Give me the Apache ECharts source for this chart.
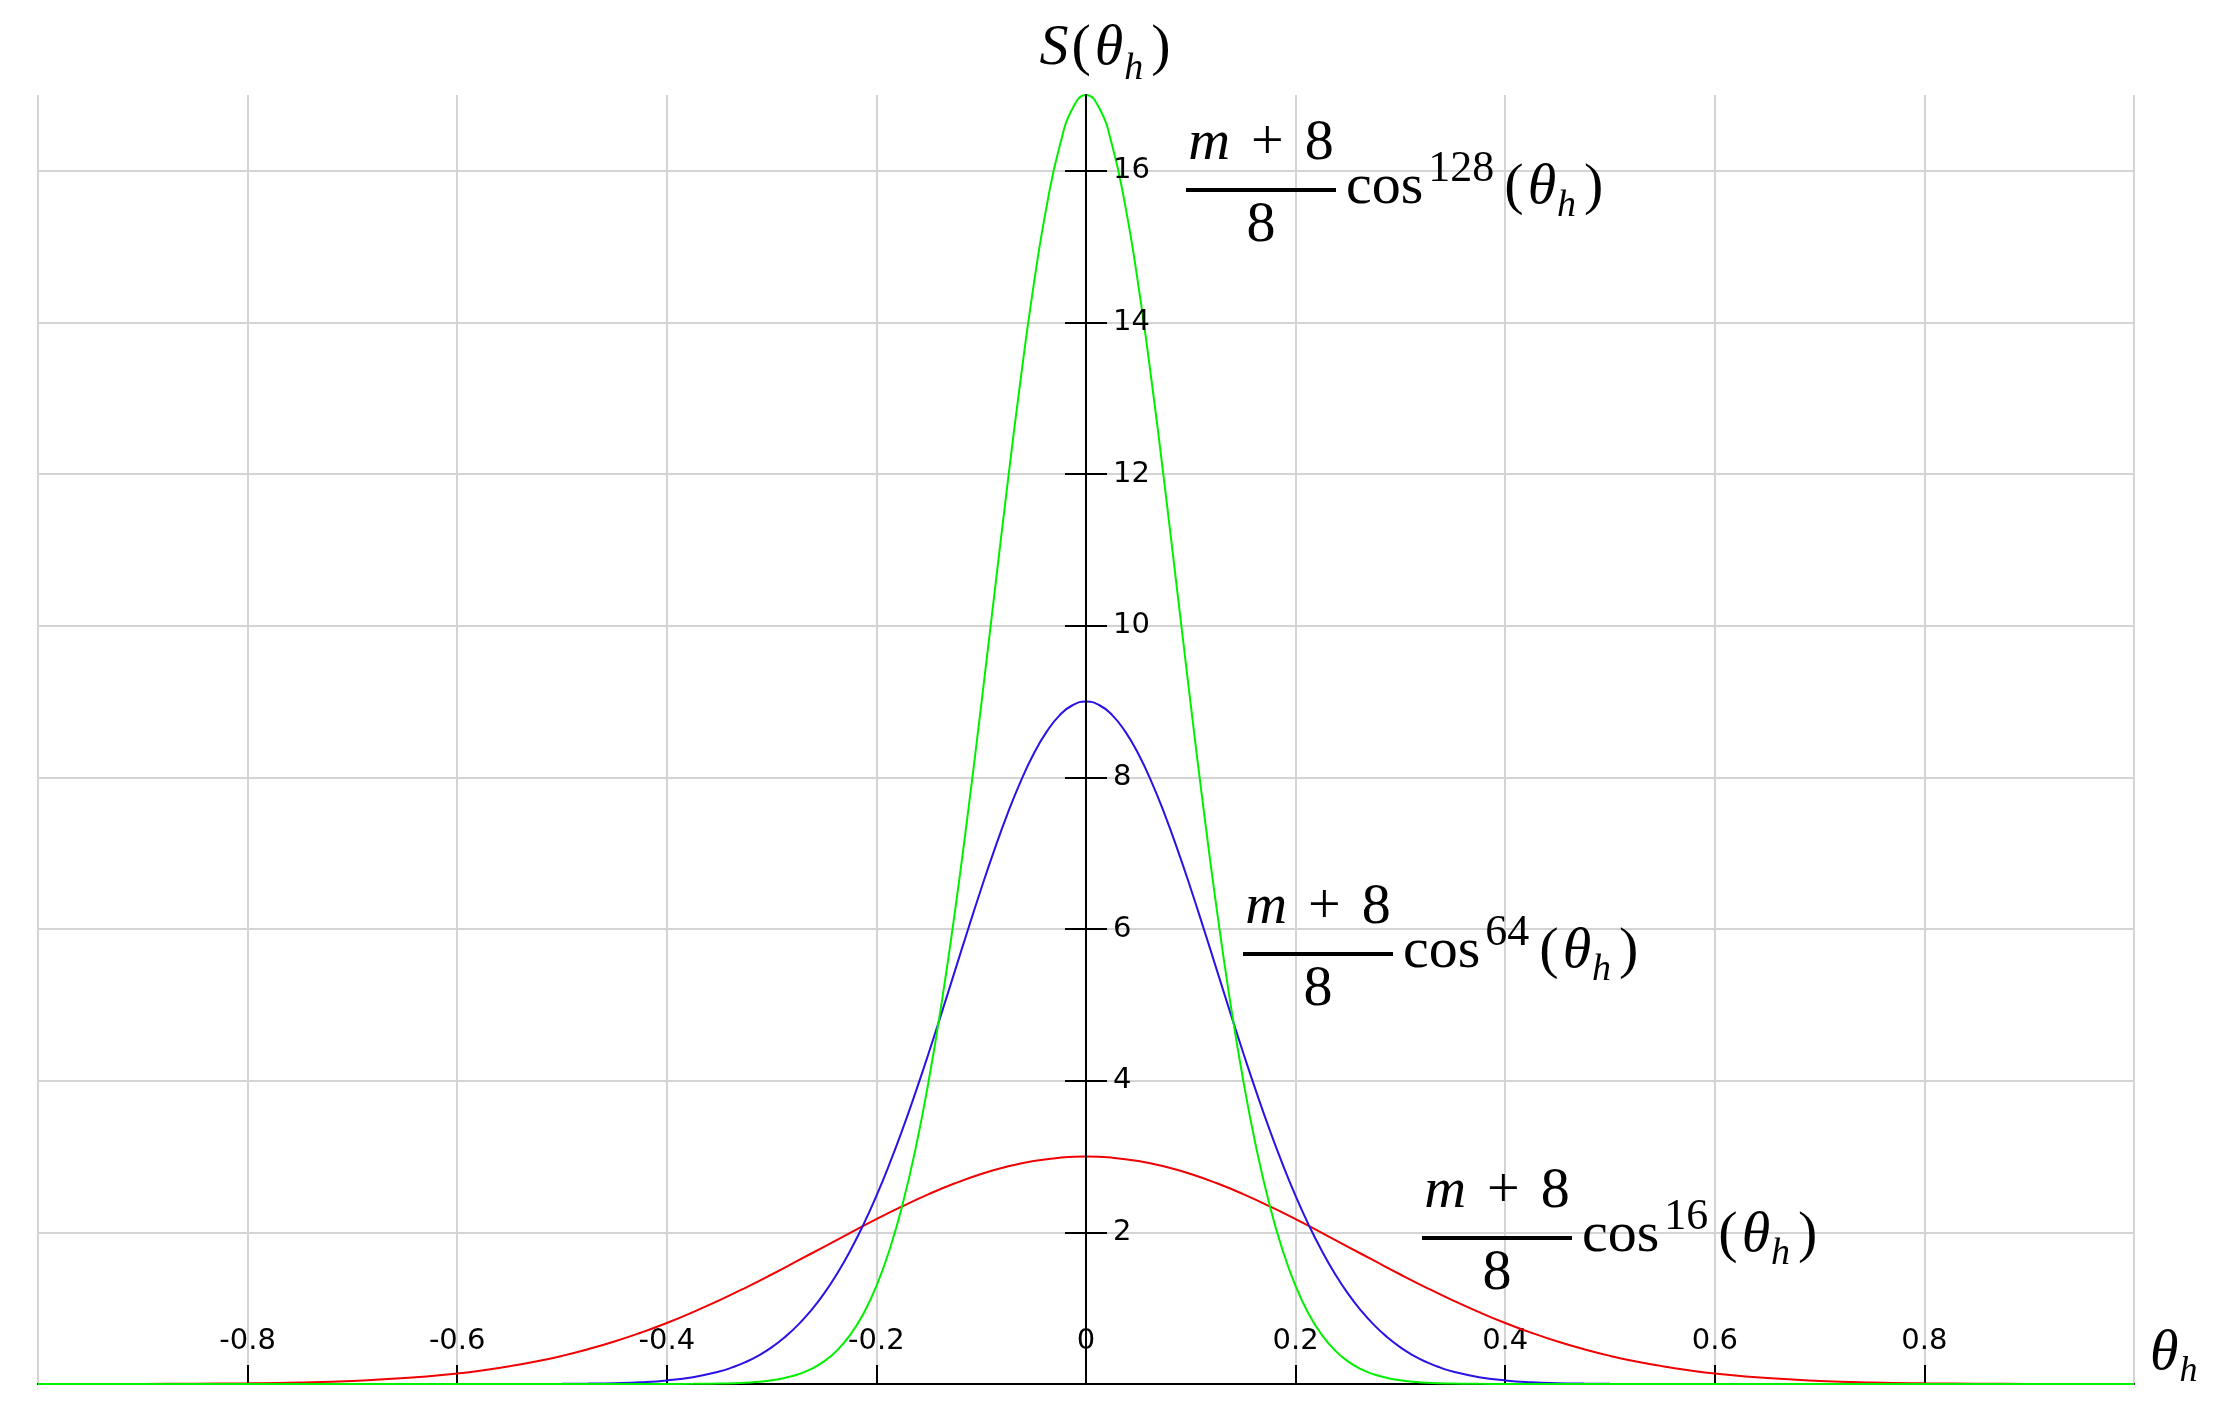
<!DOCTYPE html>
<html><head><meta charset="utf-8">
<script src="https://cdn.jsdelivr.net/npm/echarts@6/dist/echarts.min.js"></script>
<style>html,body{margin:0;padding:0;background:#fff}#c{width:2218px;height:1406px}</style>
</head><body><div id="c"></div>
<script>
// ---- data ----
const redX = [-1,-0.95,-0.9,-0.85,-0.8,-0.75,-0.7,-0.65,-0.6,-0.575,-0.55,-0.525,-0.5,-0.475,-0.45,-0.425,-0.4,-0.375,-0.35,-0.325,-0.3,-0.275,-0.25,-0.225,-0.2,-0.175,-0.15,-0.125,-0.1,-0.075,-0.05,-0.025,0,0.025,0.05,0.075,0.1,0.125,0.15,0.175,0.2,0.225,0.25,0.275,0.3,0.325,0.35,0.375,0.4,0.425,0.45,0.475,0.5,0.525,0.55,0.575,0.6,0.65,0.7,0.75,0.8,0.85,0.9,0.95,1];
const redY = [0.0002,0.0005,0.0015,0.004,0.009,0.02,0.041,0.078,0.139,0.182,0.234,0.296,0.371,0.459,0.56,0.676,0.805,0.948,1.103,1.269,1.444,1.626,1.81,1.994,2.174,2.345,2.504,2.647,2.769,2.868,2.941,2.985,3,2.985,2.941,2.868,2.769,2.647,2.504,2.345,2.174,1.994,1.81,1.626,1.444,1.269,1.103,0.948,0.805,0.676,0.56,0.459,0.371,0.296,0.234,0.182,0.139,0.078,0.041,0.02,0.009,0.004,0.0015,0.0005,0.0002];

const blueX = [-1,-0.9,-0.8,-0.7,-0.6,-0.55,-0.5,-0.475,-0.45,-0.425,-0.4,-0.375,-0.35,-0.3375,-0.325,-0.3125,-0.3,-0.2875,-0.275,-0.2625,-0.25,-0.2375,-0.225,-0.2125,-0.2,-0.1875,-0.175,-0.1625,-0.15,-0.1375,-0.125,-0.1125,-0.1,-0.0875,-0.075,-0.0625,-0.05,-0.0375,-0.025,-0.0125,0,0.0125,0.025,0.0375,0.05,0.0625,0.075,0.0875,0.1,0.1125,0.125,0.1375,0.15,0.1625,0.175,0.1875,0.2,0.2125,0.225,0.2375,0.25,0.2625,0.275,0.2875,0.3,0.3125,0.325,0.3375,0.35,0.375,0.4,0.425,0.45,0.475,0.5,0.55,0.6,0.7,0.8,0.9,1];
const blueY = [0,0,0,0,0,0.0003,0.002,0.005,0.011,0.023,0.047,0.09,0.164,0.219,0.288,0.375,0.483,0.616,0.776,0.967,1.192,1.455,1.757,2.099,2.481,2.903,3.361,3.852,4.369,4.905,5.452,5.998,6.532,7.042,7.516,7.942,8.308,8.604,8.822,8.955,9,8.955,8.822,8.604,8.308,7.942,7.516,7.042,6.532,5.998,5.452,4.905,4.369,3.852,3.361,2.903,2.481,2.099,1.757,1.455,1.192,0.967,0.776,0.616,0.483,0.375,0.288,0.219,0.164,0.09,0.047,0.023,0.011,0.005,0.002,0.0003,0,0,0,0,0];

const greenX = [-1,-0.8,-0.6,-0.5,-0.4,-0.375,-0.35,-0.325,-0.3125,-0.3,-0.2875,-0.275,-0.2625,-0.25,-0.2375,-0.225,-0.2125,-0.2,-0.1875,-0.175,-0.1625,-0.15,-0.1375,-0.125,-0.1125,-0.1,-0.0875,-0.075,-0.0625,-0.05,-0.0375,-0.025,-0.0125,0,0.0125,0.025,0.0375,0.05,0.0625,0.075,0.0875,0.1,0.1125,0.125,0.1375,0.15,0.1625,0.175,0.1875,0.2,0.2125,0.225,0.2375,0.25,0.2625,0.275,0.2875,0.3,0.3125,0.325,0.35,0.375,0.4,0.5,0.6,0.8,1];
const greenY = [0,0,0,0,0.0005,0.002,0.006,0.017,0.03,0.049,0.08,0.126,0.196,0.298,0.444,0.648,0.924,1.292,1.768,2.371,3.113,4.006,5.05,6.238,7.55,8.954,10.408,11.857,13.238,14.486,15.537,16.333,16.831,17,16.831,16.333,15.537,14.486,13.238,11.857,10.408,8.954,7.55,6.238,5.05,4.006,3.113,2.371,1.768,1.292,0.924,0.648,0.444,0.298,0.196,0.126,0.08,0.049,0.03,0.017,0.006,0.002,0.0005,0,0,0,0];

const yTickValues = [2,4,6,8,10,12,14,16];
const exponents = ['128','64','16'];

// ---- chart ----
const MATH = 'Liberation Serif';
const TICKFONT = 'DejaVu Sans';
const pairs = (xs, ys) => xs.map((x, i) => [x, ys[i]]);

function fractionLabel(X, B, exp) {
  const f = {fontFamily: MATH, fontSize: 58, fill: '#000'};
  return [
    {type: 'text', x: X + 75, y: B - 46, z: 10, style: {
      text: '{m|m}{p|+}{n|8}', align: 'center', verticalAlign: 'middle', fontFamily: MATH, fontSize: 58, fill: '#000',
      rich: {m: Object.assign({fontStyle: 'italic', padding: [0, 21, 0, 0]}, f),
             p: Object.assign({padding: [0, 21, 0, 0]}, f),
             n: Object.assign({}, f)}}},
    {type: 'line', z: 10, shape: {x1: X, y1: B, x2: X + 150, y2: B}, style: {stroke: '#000', lineWidth: 4}},
    {type: 'text', x: X + 75, y: B + 36, z: 10, style: {
      text: '{n|8}', align: 'center', verticalAlign: 'middle', fontFamily: MATH, fontSize: 58, fill: '#000',
      rich: {n: Object.assign({}, f)}}},
    {type: 'text', x: X + 160, y: B - 2, z: 10, style: {
      text: '{c|cos}{sup|' + exp + '}{c|(}{t|θ}{sub|h}{c|)}', align: 'left', verticalAlign: 'middle',
      fontFamily: MATH, fontSize: 58, fill: '#000',
      rich: {c: Object.assign({}, f),
             sup: {fontFamily: MATH, fontSize: 44, fill: '#000', padding: [0, 10, 37, 5]},
             t: Object.assign({fontStyle: 'italic', padding: [0, 1, 0, 4]}, f),
             sub: {fontFamily: MATH, fontSize: 38, fontStyle: 'italic', fill: '#000', padding: [37, 8, 0, 0]}}}}
  ];
}

const chart = echarts.init(document.getElementById('c'), null, {renderer: 'canvas'});
const option = {
  animation: false,
  backgroundColor: '#ffffff',
  grid: {left: 38, right: 84, top: 95, bottom: 22, containLabel: false, outerBoundsMode: 'none'},
  xAxis: {
    type: 'value', min: -1, max: 1, interval: 0.2, z: 0,
    axisLine: {show: true, onZero: false, lineStyle: {color: '#000', width: 2}},
    axisTick: {show: true, inside: true, length: 19, lineStyle: {color: '#000', width: 2}},
    axisLabel: {show: true, inside: true, margin: 28, showMinLabel: false, showMaxLabel: false,
      fontFamily: TICKFONT, fontSize: 29, color: '#000'},
    splitLine: {show: true, lineStyle: {color: '#d4d4d4', width: 2}}
  },
  yAxis: [
    {
      type: 'value', min: 0, max: 17, interval: 2, position: 'left', offset: -1048, z: 3,
      axisLine: {show: true, onZero: false, lineStyle: {color: '#000', width: 2}},
      axisTick: {show: true, inside: true, length: 21, customValues: yTickValues, lineStyle: {color: '#000', width: 2}},
      axisLabel: {show: true, inside: true, margin: 27, customValues: yTickValues,
        fontFamily: TICKFONT, fontSize: 29, color: '#000'},
      splitLine: {show: false}
    },
    {
      type: 'value', min: 0, max: 17, interval: 2, position: 'left', offset: -1048, z: 0,
      axisLine: {show: true, onZero: false, lineStyle: {color: '#000', width: 2}},
      axisTick: {show: true, inside: false, length: 21, customValues: yTickValues, lineStyle: {color: '#000', width: 2}},
      axisLabel: {show: false},
      splitLine: {show: true, lineStyle: {color: '#d4d4d4', width: 2}}
    }
  ],
  series: [
    {type: 'line', name: 'm=16', data: pairs(redX, redY), smooth: 0.5, showSymbol: false, z: 2,
      lineStyle: {color: '#f00000', width: 2}, itemStyle: {color: '#f00000'}},
    {type: 'line', name: 'm=64', data: pairs(blueX, blueY), smooth: 0.5, showSymbol: false, z: 2,
      lineStyle: {color: '#2a12e6', width: 2}, itemStyle: {color: '#2a12e6'}},
    {type: 'line', name: 'm=128', data: pairs(greenX, greenY), smooth: 0.5, showSymbol: false, z: 2,
      lineStyle: {color: '#00f000', width: 2}, itemStyle: {color: '#00f000'}}
  ],
  graphic: [
    {type: 'text', x: 1105, y: 49, z: 10, style: {
      text: '{s|S}{c|(}{t|θ}{sub|h}{c|)}', align: 'center', verticalAlign: 'middle', fontFamily: MATH, fontSize: 58, fill: '#000',
      rich: {s: {fontFamily: MATH, fontSize: 58, fontStyle: 'italic', fill: '#000', padding: [0, 3, 0, 0]},
             c: {fontFamily: MATH, fontSize: 58, fill: '#000'},
             t: {fontFamily: MATH, fontSize: 58, fontStyle: 'italic', fill: '#000', padding: [0, 1, 0, 4]},
             sub: {fontFamily: MATH, fontSize: 38, fontStyle: 'italic', fill: '#000', padding: [40, 8, 0, 0]}}}},
    {type: 'text', x: 2150, y: 1354, z: 10, style: {
      text: '{t|θ}{sub|h}', align: 'left', verticalAlign: 'middle', fontFamily: MATH, fontSize: 58, fill: '#000',
      rich: {t: {fontFamily: MATH, fontSize: 58, fontStyle: 'italic', fill: '#000', padding: [0, 1, 0, 0]},
             sub: {fontFamily: MATH, fontSize: 36, fontStyle: 'italic', fill: '#000', padding: [36, 0, 0, 0]}}}}
  ].concat(fractionLabel(1186, 190, exponents[0]))
   .concat(fractionLabel(1243, 954, exponents[1]))
   .concat(fractionLabel(1422, 1238, exponents[2]))
};
chart.setOption(option);
</script>
</body></html>
